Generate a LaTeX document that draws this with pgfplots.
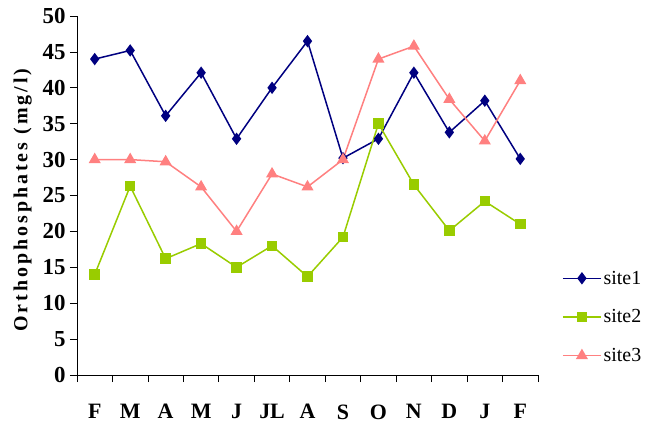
\documentclass[border=0pt]{standalone}
\usepackage{pgfplots}
\pgfplotsset{compat=1.18}
\usepackage{fontspec}
\setmainfont{Liberation Serif}
\definecolor{c1}{RGB}{0,0,128}
\definecolor{c2}{RGB}{153,204,0}
\definecolor{c3}{RGB}{255,128,128}
\begin{document}
\begin{tikzpicture}
\begin{axis}[
  scale only axis, width=461bp, height=359bp,
  xmin=0.5, xmax=13.5, ymin=0, ymax=50,
  axis x line*=bottom, axis y line*=left,
  axis line style={black, line width=0.8pt, -},
  xtick={0.5,1.5,...,13.5}, xticklabels={},
  extra x ticks={1,2,...,13},
  extra x tick labels={F,M,A,M,J,JL,A,S,O,N,D,J,F},
  extra x tick style={major tick length=0pt, xticklabel style={yshift=-26bp, font=\bfseries\fontsize{22}{22}\selectfont}},
  ytick={0,5,...,50},
  tick align=outside,
  major tick length=7bp,
  tick style={black, line width=0.8pt},
  /pgf/number format/assume math mode=true,
  yticklabel style={font=\bfseries\fontsize{23}{23}\selectfont, xshift=-1bp},
  ylabel={Orthophosphates (mg/l)},
  ylabel style={at={(axis description cs:-0.118,0.487)}, anchor=center, rotate=0,
    font=\bfseries\fontsize{20}{20}\selectfont\addfontfeature{LetterSpace=15}},
  legend style={at={(axis description cs:1.052,0.1616)}, anchor=west, draw=none, fill=none,
    font=\fontsize{20}{20}\selectfont, row sep=20bp, inner sep=0pt},
  legend cell align=left,
  legend image code/.code={\draw[mark repeat=2,mark phase=2,#1] plot coordinates {(0bp,0bp)(19bp,0bp)(38bp,0bp)};},
  clip=false,
]
\addplot[c1, line width=1.5bp, mark=diamond*, mark size=5bp] coordinates {
(1,44.0)(2,45.2)(3,36.1)(4,42.1)(5,32.9)(6,40.0)(7,46.5)(8,30.2)(9,32.9)(10,42.1)(11,33.8)(12,38.2)(13,30.1)};
\addlegendentry{site1}
\addplot[c2, line width=1.5bp, mark=square*, mark size=4.5bp] coordinates {
(1,14.0)(2,26.3)(3,16.2)(4,18.3)(5,15.0)(6,18.0)(7,13.7)(8,19.2)(9,35.0)(10,26.5)(11,20.1)(12,24.2)(13,21.0)};
\addlegendentry{site2}
\addplot[c3, line width=1.5bp, mark=triangle*, mark size=5.5bp] coordinates {
(1,30.0)(2,30.0)(3,29.7)(4,26.2)(5,20.0)(6,28.0)(7,26.2)(8,30.0)(9,44.0)(10,45.8)(11,38.4)(12,32.6)(13,41.0)};
\addlegendentry{site3}
\end{axis}
\pgfresetboundingbox
\path[use as bounding box] (-77bp,-48bp) rectangle (569bp,375bp);
\end{tikzpicture}
\end{document}
